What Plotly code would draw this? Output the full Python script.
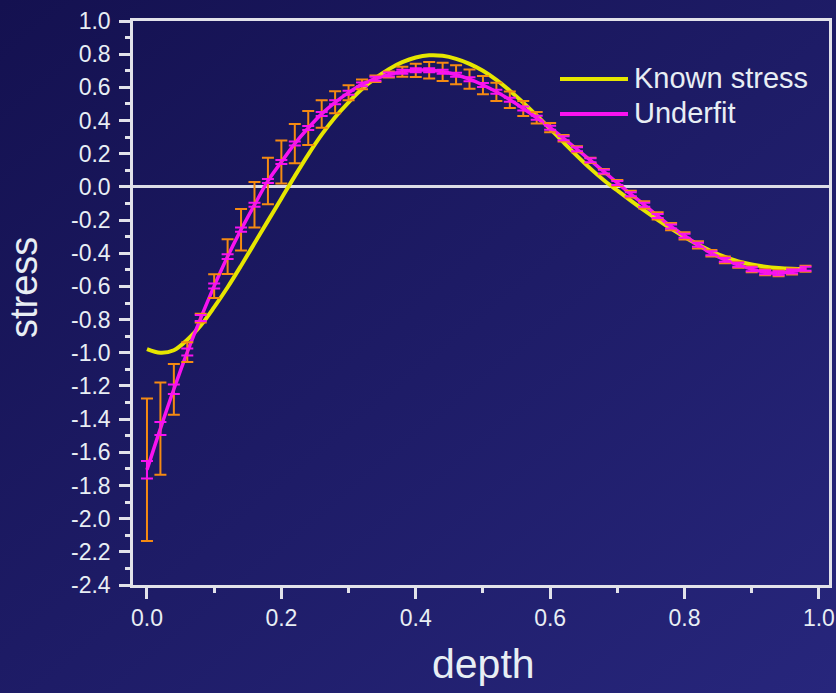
import base64
import plotly.graph_objects as go

# Sample depths (step 0.02)
depth = [0.00, 0.02, 0.04, 0.06, 0.08, 0.10, 0.12, 0.14, 0.16, 0.18,
         0.20, 0.22, 0.24, 0.26, 0.28, 0.30, 0.32, 0.34, 0.36, 0.38,
         0.40, 0.42, 0.44, 0.46, 0.48, 0.50, 0.52, 0.54, 0.56, 0.58,
         0.60, 0.62, 0.64, 0.66, 0.68, 0.70, 0.72, 0.74, 0.76, 0.78,
         0.80, 0.82, 0.84, 0.86, 0.88, 0.90, 0.92, 0.94, 0.96, 0.98]

# Reference (true) stress profile
known_stress = [-0.978, -1.000, -0.985, -0.922, -0.835, -0.725, -0.605, -0.475, -0.340, -0.205,
                -0.070, 0.065, 0.195, 0.315, 0.420, 0.510, 0.590, 0.655, 0.710, 0.752,
                0.780, 0.793, 0.790, 0.772, 0.742, 0.700, 0.645, 0.580, 0.508, 0.430,
                0.350, 0.268, 0.187, 0.110, 0.040, -0.022, -0.083, -0.142, -0.198, -0.252,
                -0.302, -0.348, -0.388, -0.422, -0.449, -0.468, -0.481, -0.489, -0.494, -0.497]

# Underfit reconstruction
underfit_stress = [-1.705, -1.457, -1.220, -0.996, -0.791, -0.598, -0.420, -0.258, -0.108, 0.036,
                   0.150, 0.261, 0.355, 0.440, 0.510, 0.568, 0.618, 0.652, 0.677, 0.694,
                   0.703, 0.703, 0.694, 0.676, 0.649, 0.614, 0.573, 0.525, 0.473, 0.417,
                   0.357, 0.293, 0.227, 0.160, 0.092, 0.024, -0.044, -0.108, -0.175, -0.239,
                   -0.295, -0.349, -0.400, -0.440, -0.470, -0.496, -0.514, -0.520, -0.510, -0.494]

# Total uncertainty (orange bars)
err_outer = [0.430, 0.278, 0.153, 0.060, 0.026, 0.072, 0.105, 0.125, 0.137, 0.140,
             0.130, 0.118, 0.103, 0.083, 0.066, 0.045, 0.030, 0.020, 0.018, 0.030,
             0.040, 0.050, 0.055, 0.057, 0.058, 0.055, 0.055, 0.050, 0.045, 0.035,
             0.028, 0.020, 0.018, 0.016, 0.016, 0.018, 0.020, 0.022, 0.022, 0.022,
             0.022, 0.022, 0.020, 0.020, 0.018, 0.018, 0.018, 0.018, 0.018, 0.018]

# Statistical uncertainty (magenta bars)
err_inner = [0.053, 0.039, 0.029, 0.021, 0.018, 0.015, 0.014, 0.013, 0.012, 0.012,
             0.012, 0.012, 0.012, 0.012, 0.012, 0.012, 0.012, 0.012, 0.012, 0.012,
             0.012, 0.012, 0.012, 0.012, 0.012, 0.012, 0.012, 0.012, 0.012, 0.012,
             0.012, 0.012, 0.012, 0.012, 0.012, 0.012, 0.012, 0.012, 0.012, 0.012,
             0.012, 0.012, 0.012, 0.012, 0.012, 0.012, 0.012, 0.012, 0.012, 0.012]

y_ticks = [1.0, 0.8, 0.6, 0.4, 0.2, 0.0, -0.2, -0.4, -0.6, -0.8, -1.0, -1.2,
           -1.4, -1.6, -1.8, -2.0, -2.2, -2.4]
y_tick_text = ["1.0", "0.8", "0.6", "0.4", "0.2", "0.0", "-0.2", "-0.4", "-0.6", "-0.8",
               "-1.0", "-1.2", "-1.4", "-1.6", "-1.8", "-2.0", "-2.2", "-2.4"]
x_ticks = [0.0, 0.2, 0.4, 0.6, 0.8, 1.0]
x_tick_text = ["0.0", "0.2", "0.4", "0.6", "0.8", "1.0"]

W, H = 836, 693
ML, MR, MT, MB = 133, 7, 21, 108
PW, PH = W - ML - MR, H - MT - MB

YELLOW = "#e6e600"
MAGENTA = "#f812f0"
ORANGE = "#f58a12"
TEXT = "#e8eef4"
AXIS = "#e2e2ea"
FONT = "Liberation Sans, Arial, sans-serif"

fig = go.Figure()

fig.add_trace(go.Scatter(
    x=depth, y=known_stress, name="Known stress", mode="lines",
    line=dict(color=YELLOW, width=4, shape="spline"), showlegend=False,
))
fig.add_trace(go.Scatter(
    x=depth, y=underfit_stress, name="Underfit", mode="lines",
    line=dict(color=MAGENTA, width=3.5, shape="spline"), showlegend=False,
))
fig.add_trace(go.Scatter(
    x=depth, y=underfit_stress, mode="markers", marker=dict(size=1, opacity=0),
    error_y=dict(type="data", array=err_outer, visible=True, color=ORANGE,
                 thickness=2, width=6),
    showlegend=False, hoverinfo="skip",
))
fig.add_trace(go.Scatter(
    x=depth, y=underfit_stress, mode="markers", marker=dict(size=1, opacity=0),
    error_y=dict(type="data", array=err_inner, visible=True, color=MAGENTA,
                 thickness=2, width=6),
    showlegend=False, hoverinfo="skip",
))

# Diagonal navy gradient backdrop
svg = (
    f'<svg xmlns="http://www.w3.org/2000/svg" width="{W}" height="{H}">'
    '<defs><linearGradient id="g" x1="0" y1="0" x2="1" y2="1">'
    '<stop offset="0" stop-color="#141150"/>'
    '<stop offset="1" stop-color="#27267c"/>'
    '</linearGradient></defs>'
    f'<rect width="{W}" height="{H}" fill="url(#g)"/></svg>'
)
bg_src = "data:image/svg+xml;base64," + base64.b64encode(svg.encode()).decode()


def px_x(p):
    return (p - ML) / PW


def px_y(p):
    return (H - MB - p) / PH


legend_items = [("Known stress", YELLOW, 79), ("Underfit", MAGENTA, 114)]
shapes = []
annotations = []
for label, color, ypix in legend_items:
    shapes.append(dict(type="line", xref="paper", yref="paper",
                       x0=px_x(560), x1=px_x(628), y0=px_y(ypix), y1=px_y(ypix),
                       line=dict(color=color, width=4)))
    annotations.append(dict(text=label, xref="paper", yref="paper",
                            x=px_x(632), y=px_y(ypix - 1), xanchor="left", yanchor="middle",
                            showarrow=False, font=dict(family=FONT, size=29, color=TEXT)))

annotations.append(dict(text="stress", xref="paper", yref="paper",
                        x=px_x(24), y=px_y(288), xanchor="center", yanchor="middle",
                        textangle=-90, showarrow=False, borderpad=0,
                        font=dict(family=FONT, size=38, color=TEXT)))
annotations.append(dict(text="depth", xref="paper", yref="paper",
                        x=px_x(483), y=px_y(664), xanchor="center", yanchor="middle",
                        showarrow=False, font=dict(family=FONT, size=41, color=TEXT)))

axis_common = dict(
    showline=True, linecolor=AXIS, linewidth=2.5, mirror=True,
    ticks="outside", ticklen=11, tickwidth=2.5, tickcolor=AXIS,
    showgrid=False, tickfont=dict(family=FONT, size=23, color=TEXT),
)

fig.update_layout(
    width=W, height=H,
    margin=dict(l=ML, r=MR, t=MT, b=MB, autoexpand=False),
    paper_bgcolor="#1d1b66",
    plot_bgcolor="rgba(0,0,0,0)",
    images=[dict(source=bg_src, xref="paper", yref="paper",
                 x=-ML / PW, y=1 + MT / PH, sizex=W / PW, sizey=H / PH,
                 xanchor="left", yanchor="top", sizing="stretch", layer="below")],
    xaxis=dict(range=[-0.0208, 1.015], tickvals=x_ticks, ticktext=x_tick_text,
               zeroline=False,
               minor=dict(dtick=0.1, tick0=0, ticks="outside", ticklen=5,
                          tickwidth=2.5, tickcolor=AXIS, showgrid=False),
               **axis_common),
    yaxis=dict(range=[-2.4, 1.0], tickvals=y_ticks, ticktext=y_tick_text,
               zeroline=True, zerolinecolor="#dcdce6", zerolinewidth=3,
               ticklabelstandoff=4,
               minor=dict(dtick=0.1, tick0=0, ticks="outside", ticklen=5,
                          tickwidth=2.5, tickcolor=AXIS, showgrid=False),
               **axis_common),
    shapes=shapes,
    annotations=annotations,
    showlegend=False,
)

fig.write_html("out.html")
